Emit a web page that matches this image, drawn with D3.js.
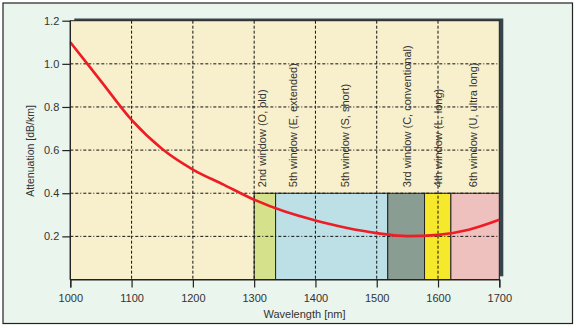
<!DOCTYPE html>
<html>
<head>
<meta charset="utf-8">
<script src="https://cdn.jsdelivr.net/npm/d3@7/dist/d3.min.js"></script>
<style>
  html, body { margin: 0; padding: 0; background: #ffffff; }
  svg { display: block; font-family: "Liberation Sans", Arial, sans-serif; }
</style>
</head>
<body>
<svg id="chart" width="576" height="328"></svg>
<script>
// ---- data ----
const curveWavelengths = [1000, 1050, 1100, 1150, 1200, 1250, 1300, 1350, 1400, 1450, 1500, 1550, 1600, 1650, 1700];
const curveAttenuation = [1.10, 0.92, 0.74, 0.605, 0.51, 0.44, 0.37, 0.315, 0.274, 0.24, 0.215, 0.201, 0.207, 0.231, 0.277];

const bandStarts = [1300, 1335, 1518, 1578, 1621];
const bandEnds   = [1335, 1518, 1578, 1621, 1700];
const bandColors = ["#d5e28b", "#bde0e7", "#8a9d92", "#f6e82b", "#eec1be"];
const bandTop = 0.4;

const windowLabels = ["2nd window (O, old)", "5th window (E, extended)", "5th window (S, short)", "3rd window (C, conventional)", "4th window (L, long)", "6th window (U, ultra long)"];
const windowLabelPos = [1312, 1363, 1449, 1549, 1600, 1657];

const xTicks = [1000, 1100, 1200, 1300, 1400, 1500, 1600, 1700];
const yTicks = [0.2, 0.4, 0.6, 0.8, 1.0, 1.2];

// ---- layout ----
const svg = d3.select("#chart");
const pLeft = 70.3, pRight = 499.3, pTop = 20.7, pBottom = 279.5;

const x = d3.scaleLinear().domain([1000, 1700]).range([pLeft, pRight]);
const y = d3.scaleLinear().domain([0, 1.2]).range([pBottom, pTop]);

// outer frame
svg.append("rect").attr("x", 3).attr("y", 3).attr("width", 569.5).attr("height", 320.5)
  .attr("fill", "#eaf5ed").attr("stroke", "#222").attr("stroke-width", 1.2);

// plot shadow
svg.append("rect").attr("x", pLeft + 4).attr("y", pTop - 2.2).attr("width", pRight - pLeft).attr("height", pBottom - pTop - 1)
  .attr("fill", "#37444c");

// plot background
svg.append("rect").attr("x", pLeft).attr("y", pTop).attr("width", pRight - pLeft).attr("height", pBottom - pTop)
  .attr("fill", "#f8f0cc").attr("stroke", "#222").attr("stroke-width", 1);

// bands
svg.append("g").selectAll("rect").data(bandStarts).join("rect")
  .attr("x", (d) => x(d))
  .attr("y", y(bandTop))
  .attr("width", (d, i) => x(bandEnds[i]) - x(d))
  .attr("height", y(0) - y(bandTop))
  .attr("fill", (d, i) => bandColors[i])
  .attr("stroke", "#222").attr("stroke-width", 1);

// grid
const grid = svg.append("g");
grid.selectAll("line.v").data(xTicks.slice(1, -1)).join("line")
  .attr("x1", (d) => x(d)).attr("x2", (d) => x(d))
  .attr("y1", pTop).attr("y2", pBottom)
  .attr("stroke", "#111").attr("stroke-width", 1).attr("stroke-dasharray", "3,2");
grid.selectAll("line.h").data(yTicks.slice(0, -1)).join("line")
  .attr("x1", pLeft).attr("x2", pRight)
  .attr("y1", (d) => y(d)).attr("y2", (d) => y(d))
  .attr("stroke", "#111").attr("stroke-width", 1).attr("stroke-dasharray", "3,2,3,2,1,2");

// window labels
svg.append("g").selectAll("text").data(windowLabels).join("text")
  .attr("transform", (d, i) => `translate(${x(windowLabelPos[i]) + 4},${y(bandTop) - 6}) rotate(-90)`)
  .attr("font-size", 11).attr("fill", "#333")
  .text((d) => d);

// curve
const line = d3.line().x((d) => x(d[0])).y((d) => y(d[1])).curve(d3.curveMonotoneX);
svg.append("path")
  .datum(curveWavelengths.map((w, i) => [w, curveAttenuation[i]]))
  .attr("d", line).attr("fill", "none").attr("stroke", "#ee1c24").attr("stroke-width", 2.6);

// axes
const xAxis = d3.axisBottom(x).tickValues(xTicks).tickSize(8).tickPadding(7).tickFormat(d3.format("d"));
const gx = svg.append("g").attr("transform", `translate(0,${pBottom})`).call(xAxis);
const yAxis = d3.axisLeft(y).tickValues(yTicks).tickSize(8).tickPadding(3).tickFormat(d3.format(".1f"));
const gy = svg.append("g").attr("transform", `translate(${pLeft},0)`).call(yAxis);
[gx, gy].forEach((g) => {
  g.select(".domain").attr("stroke", "#222").attr("stroke-width", 1.2);
  g.selectAll(".tick line").attr("stroke", "#222").attr("stroke-width", 1.2);
  g.selectAll(".tick text").attr("font-size", 11).attr("fill", "#333")
    .attr("font-family", "Liberation Sans, Arial, sans-serif");
});
gy.select(".domain").attr("d", `M0,${pTop}V${pBottom}`);

// axis titles
svg.append("text").attr("x", 304.5).attr("y", 318).attr("text-anchor", "middle")
  .attr("font-size", 11).attr("fill", "#333").text("Wavelength [nm]");
svg.append("text").attr("transform", `translate(34,151) rotate(-90)`).attr("text-anchor", "middle")
  .attr("font-size", 10.5).attr("fill", "#333").text("Attenuation [dB/km]");
</script>
</body>
</html>
